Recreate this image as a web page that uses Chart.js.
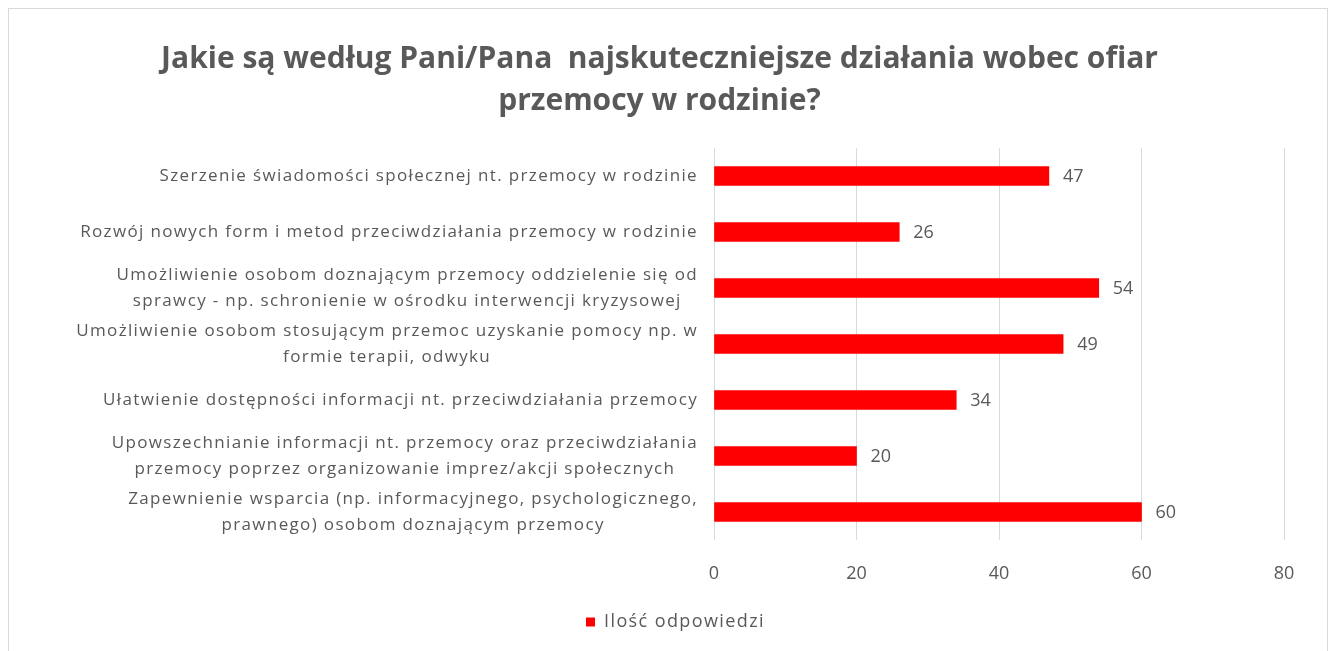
<!DOCTYPE html>
<html>
<head>
<meta charset="utf-8">
<script src="https://cdn.jsdelivr.net/npm/chart.js@4.4.1/dist/chart.umd.min.js"></script>
<style>
  html, body { margin: 0; padding: 0; background: #ffffff; width: 1338px; height: 651px; overflow: hidden; }
  #box { position: absolute; left: 8px; top: 8px; width: 1320px; height: 660px; border: 1px solid #d9d9d9; box-sizing: border-box; background: #fff; }
  #c { display: block; }
</style>
</head>
<body>
<div id="box"><canvas id="c" width="1318" height="658"></canvas></div>
<script>
const titleLines = ["Jakie są według Pani/Pana  najskuteczniejsze działania wobec ofiar", "przemocy w rodzinie?"];
const categories = [
  ["Szerzenie świadomości społecznej nt. przemocy w rodzinie"],
  ["Rozwój nowych form i metod przeciwdziałania przemocy w rodzinie"],
  ["Umożliwienie osobom doznającym przemocy oddzielenie się od", "sprawcy - np. schronienie w ośrodku interwencji kryzysowej"],
  ["Umożliwienie osobom stosującym przemoc uzyskanie pomocy np. w", "formie terapii, odwyku"],
  ["Ułatwienie dostępności informacji nt. przeciwdziałania przemocy"],
  ["Upowszechnianie informacji nt. przemocy oraz przeciwdziałania", "przemocy poprzez organizowanie imprez/akcji społecznych"],
  ["Zapewnienie wsparcia (np. informacyjnego, psychologicznego,", "prawnego) osobom doznającym przemocy"]
];
const seriesName = "Ilość odpowiedzi";
const values = [47, 26, 54, 49, 34, 20, 60];
const xTicks = [0, 20, 40, 60, 80];

const TEXT = "#595959";
const FONT = "'Open Sans', 'DejaVu Sans', sans-serif";

const catLabelPlugin = {
  id: 'catLabels',
  afterDraw(chart) {
    const ctx = chart.ctx;
    const y = chart.scales.y;
    ctx.save();
    ctx.font = "17px " + FONT;
    ctx.letterSpacing = "1.35px";
    ctx.fillStyle = TEXT;
    ctx.textAlign = 'center';
    ctx.textBaseline = 'middle';
    const right = chart.chartArea.left - 16;
    const lh = 26;
    chart.data.labels.forEach((lines, i) => {
      const cy = y.getPixelForValue(i);
      let w = 0;
      lines.forEach(l => { w = Math.max(w, ctx.measureText(l).width); });
      const cx = right - w / 2;
      const y0 = cy - (lines.length - 1) * lh / 2;
      lines.forEach((l, k) => ctx.fillText(l, cx, y0 + k * lh));
    });
    ctx.restore();
  }
};

const valueLabelPlugin = {
  id: 'valueLabels',
  afterDatasetsDraw(chart) {
    const ctx = chart.ctx;
    ctx.save();
    ctx.font = "18px " + FONT;
    ctx.fillStyle = TEXT;
    ctx.textAlign = 'left';
    ctx.textBaseline = 'middle';
    chart.getDatasetMeta(0).data.forEach((bar, i) => {
      ctx.fillText(String(chart.data.datasets[0].data[i]), bar.x + 14, bar.y + 1);
    });
    ctx.restore();
  }
};

const legendTweak = {
  id: 'legendTweak',
  afterInit(chart) {
    const lg = chart.legend;
    if (!lg || lg._tweaked) return;
    const wrap = fn => function (...a) {
      const c = chart.ctx;
      const prev = c.letterSpacing;
      c.letterSpacing = '1.4px';
      try { return fn.apply(this, a); } finally { c.letterSpacing = prev; }
    };
    lg.fit = wrap(lg.fit);
    lg.draw = wrap(lg.draw);
    lg._tweaked = true;
  },
  afterLayout(chart) {
    if (chart.legend) { chart.legend.left += 16; chart.legend.right += 16; }
  }
};

new Chart(document.getElementById('c'), {
  type: 'bar',
  data: {
    labels: categories,
    datasets: [{
      label: seriesName,
      data: values,
      backgroundColor: '#ff0000',
      borderWidth: 0,
      barThickness: 19
    }]
  },
  options: {
    indexAxis: 'y',
    responsive: false,
    animation: false,
    devicePixelRatio: 1,
    layout: { padding: { left: 26, right: 43, top: 0, bottom: 26 } },
    scales: {
      x: {
        min: 0, max: 80,
        afterBuildTicks(scale) { scale.ticks = xTicks.map(v => ({ value: v })); },
        grid: { color: '#d9d9d9', lineWidth: 1, drawTicks: false },
        border: { display: false },
        ticks: { color: TEXT, font: { family: FONT, size: 18 }, padding: 23 },
        afterFit(scale) { scale.height = 63; }
      },
      y: {
        grid: { display: false, drawTicks: false },
        border: { display: false },
        ticks: { display: false },
        afterFit(scale) { scale.width = 679; }
      }
    },
    plugins: {
      title: {
        display: true,
        text: titleLines,
        color: TEXT,
        font: { family: FONT, size: 30, weight: 'bold', lineHeight: 42 / 30 },
        padding: { top: 29, bottom: 26 }
      },
      legend: {
        display: true,
        position: 'bottom',
        labels: {
          color: TEXT,
          font: { family: FONT, size: 18 },
          usePointStyle: true,
          pointStyle: 'rect',
          boxWidth: 9,
          boxHeight: 9
        }
      },
      tooltip: { enabled: false }
    }
  },
  plugins: [catLabelPlugin, valueLabelPlugin, legendTweak]
});
</script>
</body>
</html>
